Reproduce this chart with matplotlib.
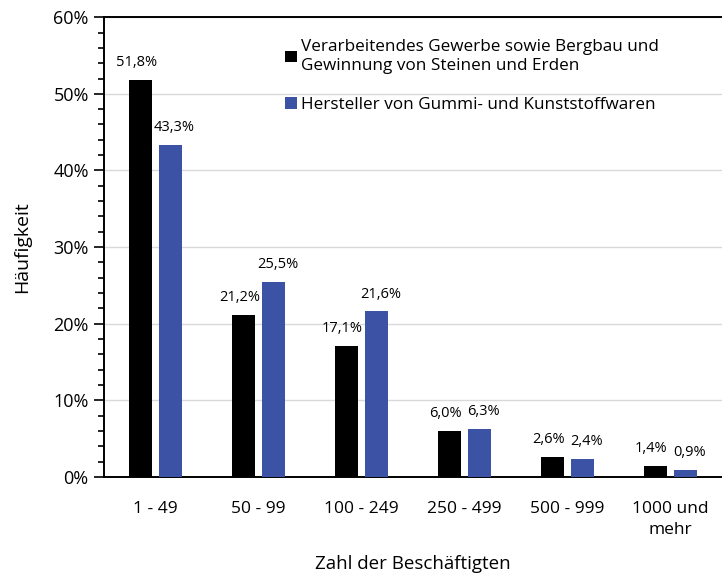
import matplotlib
matplotlib.use("Agg")
import matplotlib.pyplot as plt
import numpy as np
from matplotlib.ticker import MultipleLocator, FuncFormatter

plt.rcParams['font.family'] = ['Open Sans', 'DejaVu Sans']

categories = ["1 - 49", "50 - 99", "100 - 249", "250 - 499", "500 - 999", "1000 und\nmehr"]
series1_name = "Verarbeitendes Gewerbe sowie Bergbau und\nGewinnung von Steinen und Erden"
series2_name = "Hersteller von Gummi- und Kunststoffwaren"
series1 = [51.8, 21.2, 17.1, 6.0, 2.6, 1.4]
series2 = [43.3, 25.5, 21.6, 6.3, 2.4, 0.9]

fig = plt.figure(figsize=(7.22, 5.73), dpi=100)
ax = fig.add_axes([0.144, 0.1675, 0.856, 0.8025])

x = np.arange(len(categories))
w = 0.22
off = 0.145
b1 = ax.bar(x - off, series1, w, color="black", label=series1_name, zorder=3)
b2 = ax.bar(x + off, series2, w, color="#3c52a4", label=series2_name, zorder=3)

def fmt(v):
    return f"{v:.1f}".replace(".", ",") + "%"

for xi, v in zip(x, series1):
    ax.text(xi - off - 0.04, v + 1.3, fmt(v), ha="center", va="bottom", fontsize=10.5)
for xi, v in zip(x, series2):
    ax.text(xi + off + 0.04, v + 1.3, fmt(v), ha="center", va="bottom", fontsize=10.5)

ax.set_xlim(-0.5, len(categories) - 0.5)
ax.set_ylim(0, 60)
ax.yaxis.set_major_locator(MultipleLocator(10))
ax.yaxis.set_minor_locator(MultipleLocator(2))
ax.yaxis.set_major_formatter(FuncFormatter(lambda v, p: f"{v:.0f}%"))
ax.grid(axis="y", which="major", color="#d9d9d9", linewidth=1, zorder=0)
ax.set_xticks(x)
ax.set_xticklabels(categories, fontsize=12.5, linespacing=1.45)
ax.tick_params(axis="x", length=0, pad=17)
ax.tick_params(axis="y", which="major", length=7, width=1.2, labelsize=13, direction="out", pad=4)
ax.tick_params(axis="y", which="minor", length=4, width=1.2, direction="out")
for s in ["left", "bottom", "top"]:
    ax.spines[s].set_linewidth(1.4)
ax.spines["right"].set_visible(False)

ax.set_ylabel("Häufigkeit", fontsize=14, labelpad=16)
ax.set_xlabel("Zahl der Beschäftigten", fontsize=13.5, labelpad=12)

leg = ax.legend(loc="upper left", bbox_to_anchor=(0.285, 0.963), frameon=False,
                fontsize=12.3, handlelength=0.68, handleheight=0.68, handletextpad=0.25,
                labelspacing=1.35, borderaxespad=0, borderpad=0.3)

fig.savefig("out.png", dpi=100)
